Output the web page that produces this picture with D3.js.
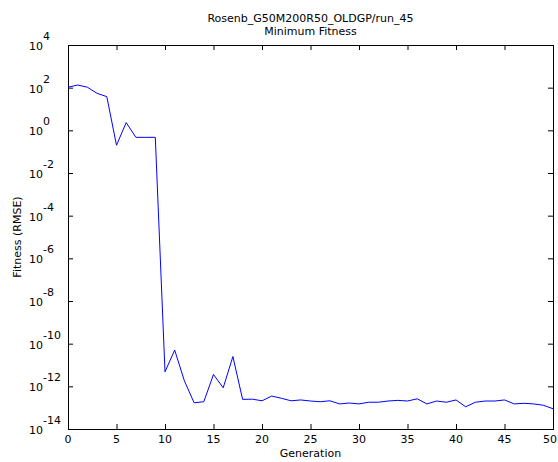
<!DOCTYPE html>
<meta charset="utf-8">
<body style="margin:0;background:#fff">
<svg width="558" height="462"></svg>
</body>
<script src="https://d3js.org/d3.v7.min.js"></script>
<script>

var titleLines = ["Rosenb_G50M200R50_OLDGP/run_45", "Minimum Fitness"];
var xLabel = "Generation";
var yLabel = "Fitness (RMSE)";

var generations = d3.range(0, 51);
var fitness = [
  105, 133, 105, 54, 38, 0.20, 2.3, 0.47, 0.47, 0.47,
  4.8e-12, 5.0e-11, 1.8e-12, 1.7e-13, 1.9e-13, 3.6e-12, 8.5e-13, 2.5e-11, 2.45e-13, 2.5e-13,
  2.1e-13, 3.5e-13, 2.75e-13, 2.1e-13, 2.3e-13, 2.05e-13, 1.9e-13, 2.1e-13, 1.5e-13, 1.65e-13,
  1.5e-13, 1.8e-13, 1.8e-13, 2.05e-13, 2.2e-13, 2.05e-13, 2.6e-13, 1.5e-13, 2.05e-13, 1.8e-13,
  2.3e-13, 1.1e-13, 1.8e-13, 2.05e-13, 2.05e-13, 2.3e-13, 1.5e-13, 1.6e-13, 1.5e-13, 1.3e-13,
  8.9e-14
];
var xTicks = [0, 5, 10, 15, 20, 25, 30, 35, 40, 45, 50];
var yExponents = [4, 2, 0, -2, -4, -6, -8, -10, -12, -14];

var svg = d3.select("svg"),
    pLeft = 68, pRight = 553, pTop = 45, pBottom = 429,
    font = "DejaVu Sans";

var x = d3.scaleLinear().domain([0, 50]).range([pLeft, pRight]);
var y = d3.scaleLog().domain([1e-14, 1e4]).range([pBottom, pTop]);

// inward ticks on all four sides
function styleAxis(g) {
  g.select(".domain").remove();
  g.selectAll("line").attr("stroke", "#000");
  g.selectAll("text").remove();
}
var yTickVals = yExponents.map(e => Math.pow(10, e));
svg.append("g").attr("transform", "translate(" + pLeft + ",0)")
  .call(d3.axisRight(y).tickValues(yTickVals).tickSize(5)).call(styleAxis);
svg.append("g").attr("transform", "translate(" + pRight + ",0)")
  .call(d3.axisLeft(y).tickValues(yTickVals).tickSize(5)).call(styleAxis);
svg.append("g").attr("transform", "translate(0," + pBottom + ")")
  .call(d3.axisTop(x).tickValues(xTicks).tickSize(5)).call(styleAxis);
svg.append("g").attr("transform", "translate(0," + pTop + ")")
  .call(d3.axisBottom(x).tickValues(xTicks).tickSize(5)).call(styleAxis);

// frame
svg.append("rect")
  .attr("x", pLeft + 0.5).attr("y", pTop + 0.5)
  .attr("width", pRight - pLeft).attr("height", pBottom - pTop)
  .attr("fill", "none").attr("stroke", "#000");

// data line
var line = d3.line()
  .x((d, i) => x(generations[i]))
  .y(d => y(d));
svg.append("path")
  .datum(fitness)
  .attr("d", line)
  .attr("fill", "none")
  .attr("stroke", "#0000ff")
  .attr("stroke-width", 1);

// y tick labels 10^n
var yl = svg.append("g").attr("font-family", font).attr("font-size", 11).attr("fill", "#000");
yExponents.forEach(function(e) {
  var yy = y(Math.pow(10, e));
  yl.append("text").attr("x", 43).attr("y", yy + 5).attr("text-anchor", "end").text("10");
  yl.append("text").attr("x", 43).attr("y", yy - 5).attr("text-anchor", "start").text(e);
});

// x tick labels
svg.append("g").attr("font-family", font).attr("font-size", 11)
  .selectAll("text").data(xTicks).join("text")
  .attr("x", d => x(d)).attr("y", 443)
  .attr("text-anchor", d => d === 50 ? "end" : "middle")
  .attr("dx", d => d === 50 ? 4 : 0)
  .text(d => d);

svg.append("text")
  .attr("x", (pLeft + pRight) / 2).attr("y", 457)
  .attr("text-anchor", "middle").attr("font-family", font).attr("font-size", 11)
  .text(xLabel);

svg.append("text")
  .attr("transform", "translate(21," + ((pTop + pBottom) / 2) + ") rotate(-90)")
  .attr("text-anchor", "middle").attr("font-family", font).attr("font-size", 11)
  .text(yLabel);

svg.append("g").attr("font-family", font).attr("font-size", 11)
  .selectAll("text").data(titleLines).join("text")
  .attr("x", (pLeft + pRight) / 2).attr("y", (d, i) => 22 + i * 13)
  .attr("text-anchor", "middle").text(d => d);

</script>
